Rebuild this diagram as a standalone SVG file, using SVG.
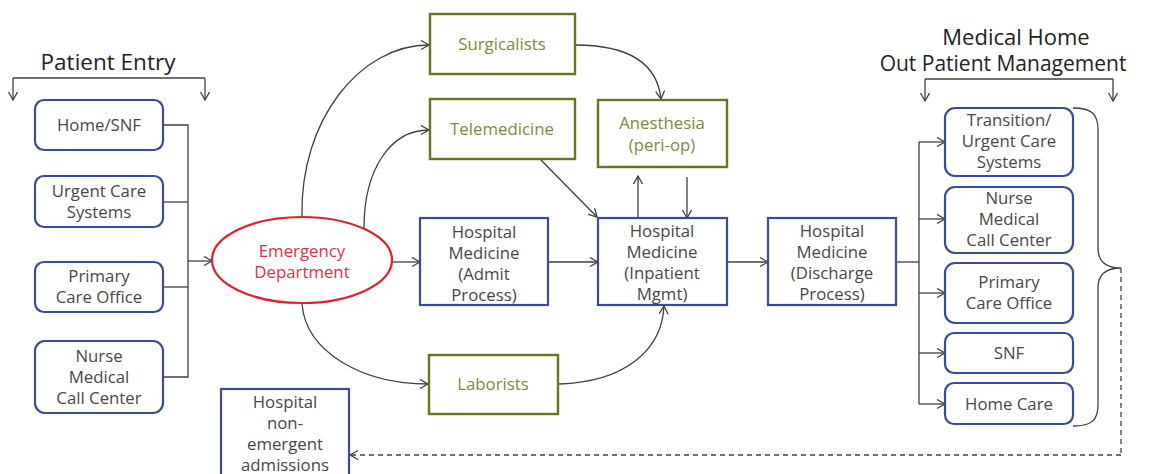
<svg xmlns="http://www.w3.org/2000/svg" width="1152" height="474" viewBox="0 0 1152 474">
<defs>
<marker id="arr" markerWidth="12" markerHeight="12" refX="9" refY="5" orient="auto" markerUnits="userSpaceOnUse">
<path d="M1,0.5 L9,5 L1,9.5" fill="none" stroke="#404040" stroke-width="1.3"/>
</marker>
<style>
.bx{fill:#fff;stroke:#3a4a9c;stroke-width:2.2}
.ol{fill:#fff;stroke:#66761e;stroke-width:2.4}
.t{font-family:"Open Sans",Lato,sans-serif;font-size:16.8px;fill:#474747;text-anchor:middle}
.to{font-family:"Open Sans",Lato,sans-serif;font-size:16.8px;fill:#7d8a3c;text-anchor:middle}
.tr{font-family:"Open Sans",Lato,sans-serif;font-size:16.8px;fill:#e0304a;text-anchor:middle}
.h{font-family:"Open Sans",Lato,sans-serif;font-size:21px;fill:#222;text-anchor:middle}
.c{fill:none;stroke:#404040;stroke-width:1.3}
.a{fill:none;stroke:#404040;stroke-width:1.3;marker-end:url(#arr)}
</style>
</defs>
<rect width="1152" height="474" fill="#fff"/>

<g id="connectors">
<path class="c" d="M13,78 H205"/>
<path class="a" d="M13,78 V100"/>
<path class="a" d="M205,78 V100"/>
<path class="c" d="M163,125 H188 V377 H163"/>
<path class="c" d="M163,202 H188"/>
<path class="c" d="M163,287 H188"/>
<path class="a" d="M188,261 H212"/>
<path class="a" d="M392,262 H420"/>
<path class="a" d="M548,262 H598"/>
<path class="a" d="M727,262 H768"/>
<path class="a" d="M302,216 C300,120 360,45 429,45"/>
<path class="a" d="M364,228 C364,170 390,130 429,130"/>
<path class="a" d="M302,304 C306,352 362,384 428,384"/>
<path class="a" d="M559,384 C625,382 662,350 664,306"/>
<path class="a" d="M575,45 C628,45 657,62 661,99"/>
<path class="a" d="M540,159 L597,217"/>
<path class="a" d="M638,218 V176"/>
<path class="a" d="M687,177 V218"/>
<path class="c" d="M896,262 H919"/>
<path class="c" d="M919,142 V404"/>
<path class="a" d="M919,142 H945"/>
<path class="a" d="M919,219 H945"/>
<path class="a" d="M919,293 H945"/>
<path class="a" d="M919,353 H945"/>
<path class="a" d="M919,404 H945"/>
<path class="c" d="M925,79 H1113"/>
<path class="a" d="M925,79 V101"/>
<path class="a" d="M1113,79 V101"/>
<path class="c" d="M1073,108 C1092,108 1098,114 1098,130 V248 C1098,262 1106,268 1121,268 C1106,268 1098,274 1098,288 V405 C1098,420 1092,426 1073,426"/>
<path class="c" d="M1121,268 V455" stroke-dasharray="5,4"/>
<path class="a" d="M1121,455 H350" stroke-dasharray="5,4"/>
</g>

<g id="title-entry"><text class="h" x="108" y="70" style="font-size:22.5px">Patient Entry</text></g>
<g id="title-home">
<text class="h" x="1016" y="45" style="font-size:22px">Medical Home</text>
<text class="h" x="1003" y="71">Out Patient Management</text>
</g>

<g id="home-snf"><rect class="bx" x="35" y="100" width="128" height="50" rx="9"/><text class="t" x="99" y="131">Home/SNF</text></g>
<g id="urgent-care"><rect class="bx" x="35" y="176" width="128" height="51" rx="9"/><text class="t" x="99" y="197">Urgent Care</text><text class="t" x="99" y="218">Systems</text></g>
<g id="primary-care"><rect class="bx" x="35" y="262" width="128" height="50" rx="9"/><text class="t" x="99" y="282">Primary</text><text class="t" x="99" y="303">Care Office</text></g>
<g id="nurse-call"><rect class="bx" x="35" y="341" width="128" height="72" rx="10"/><text class="t" x="99" y="362">Nurse</text><text class="t" x="99" y="383">Medical</text><text class="t" x="99" y="404">Call Center</text></g>

<g id="ed"><ellipse cx="302" cy="260" rx="90" ry="43" fill="#fff" stroke="#e0202e" stroke-width="2.2"/><text class="tr" x="302" y="257">Emergency</text><text class="tr" x="302" y="278">Department</text></g>

<g id="surgicalists"><rect class="ol" x="430" y="14" width="145" height="60"/><text class="to" x="502" y="50">Surgicalists</text></g>
<g id="telemedicine"><rect class="ol" x="430" y="99" width="145" height="60"/><text class="to" x="502" y="135">Telemedicine</text></g>
<g id="anesthesia"><rect class="ol" x="598" y="100" width="129" height="67"/><text class="to" x="662" y="129">Anesthesia</text><text class="to" x="662" y="151">(peri-op)</text></g>
<g id="laborists"><rect class="ol" x="429" y="355" width="129" height="59"/><text class="to" x="493" y="390">Laborists</text></g>

<g id="admit"><rect class="bx" x="420" y="218" width="128" height="87"/><text class="t" x="484" y="238">Hospital</text><text class="t" x="484" y="259">Medicine</text><text class="t" x="484" y="280">(Admit</text><text class="t" x="484" y="301">Process)</text></g>
<g id="inpatient"><rect class="bx" x="598" y="218" width="129" height="87"/><text class="t" x="662" y="237">Hospital</text><text class="t" x="662" y="258">Medicine</text><text class="t" x="662" y="279">(Inpatient</text><text class="t" x="662" y="300">Mgmt)</text></g>
<g id="discharge"><rect class="bx" x="768" y="218" width="128" height="87"/><text class="t" x="832" y="237">Hospital</text><text class="t" x="832" y="258">Medicine</text><text class="t" x="832" y="279">(Discharge</text><text class="t" x="832" y="300">Process)</text></g>

<g id="non-emergent"><rect class="bx" x="221" y="389" width="128" height="95"/><text class="t" x="285" y="408">Hospital</text><text class="t" x="285" y="429">non-</text><text class="t" x="285" y="450">emergent</text><text class="t" x="285" y="471">admissions</text></g>

<g id="transition"><rect class="bx" x="945" y="108" width="128" height="68" rx="10"/><text class="t" x="1009" y="126">Transition/</text><text class="t" x="1009" y="147">Urgent Care</text><text class="t" x="1009" y="168">Systems</text></g>
<g id="nurse-call-2"><rect class="bx" x="945" y="187" width="128" height="66" rx="10"/><text class="t" x="1009" y="204">Nurse</text><text class="t" x="1009" y="225">Medical</text><text class="t" x="1009" y="246">Call Center</text></g>
<g id="primary-care-2"><rect class="bx" x="945" y="263" width="128" height="60" rx="10"/><text class="t" x="1009" y="288">Primary</text><text class="t" x="1009" y="309">Care Office</text></g>
<g id="snf"><rect class="bx" x="945" y="333" width="128" height="40" rx="9"/><text class="t" x="1009" y="359">SNF</text></g>
<g id="home-care"><rect class="bx" x="945" y="383" width="128" height="41" rx="9"/><text class="t" x="1009" y="410">Home Care</text></g>
</svg>
